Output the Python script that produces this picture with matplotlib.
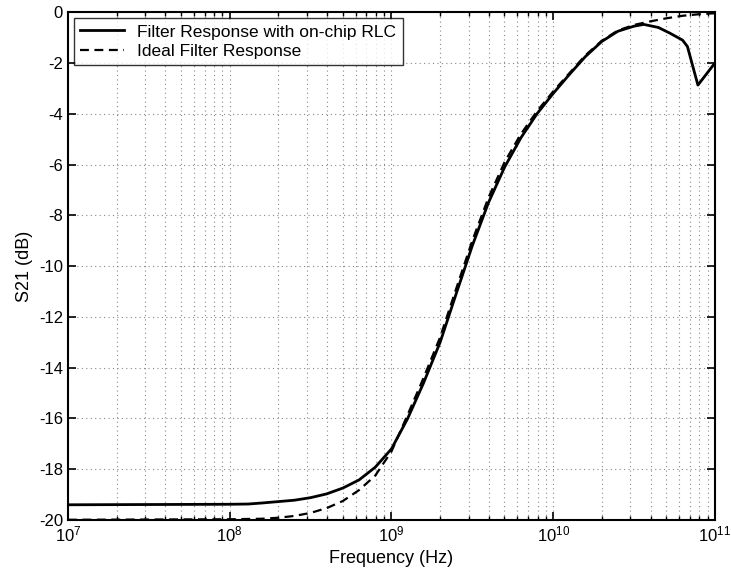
import matplotlib
matplotlib.use("Agg")
import matplotlib.pyplot as plt

plt.rcParams['font.family'] = ['Liberation Sans', 'DejaVu Sans']

# Measured response (on-chip RLC)
freq_meas = [1e7, 1e8, 1.3e8, 1.58e8, 2.51e8, 3.16e8, 3.98e8, 5.01e8, 6.31e8, 7.94e8,
             1e9, 1.26e9, 1.58e9, 2e9, 2.51e9, 3.16e9, 3.98e9, 5.01e9, 6.31e9, 7.94e9,
             1e10, 1.26e10, 1.58e10, 2e10, 2.51e10, 3.16e10, 3.63e10, 4.47e10, 5.25e10,
             6.31e10, 6.76e10, 7.85e10, 1e11]
s21_meas = [-19.40, -19.38, -19.37, -19.33, -19.22, -19.12, -18.97, -18.74, -18.42, -17.92,
            -17.2, -16.0, -14.6, -13.0, -11.1, -9.2, -7.5, -6.1, -4.95, -4.0,
            -3.2, -2.45, -1.75, -1.15, -0.75, -0.55, -0.48, -0.6, -0.82,
            -1.1, -1.35, -2.87, -2.0]

# Ideal response
freq_ideal = [1e7, 1e8, 1.58e8, 2e8, 2.51e8, 3.16e8, 3.98e8, 5.01e8, 6.31e8, 7.94e8,
              1e9, 1.26e9, 1.58e9, 2e9, 2.51e9, 3.16e9, 3.98e9, 5.01e9, 6.31e9, 7.94e9,
              1e10, 1.26e10, 1.58e10, 2e10, 2.51e10, 3.16e10, 3.98e10, 5.01e10, 6.31e10,
              7.94e10, 1e11]
s21_ideal = [-19.99, -19.97, -19.95, -19.91, -19.84, -19.72, -19.53, -19.25, -18.82, -18.25,
             -17.3, -15.85, -14.4, -12.8, -10.9, -9.0, -7.3, -5.9, -4.8, -3.9,
             -3.12, -2.4, -1.7, -1.12, -0.72, -0.5, -0.36, -0.24, -0.14,
             -0.08, -0.04]

xticks = [1e7, 1e8, 1e9, 1e10, 1e11]
yticks = list(range(-20, 1, 2))

fig = plt.figure(figsize=(7.31, 5.82), dpi=100)
ax = fig.add_axes([0.093, 0.1065, 0.885, 0.8725])

ax.semilogx(freq_meas, s21_meas, color='black', lw=2.0, ls='-',
            label='Filter Response with on-chip RLC')
ax.semilogx(freq_ideal, s21_ideal, color='black', lw=1.6, ls=(0, (4, 2.5)),
            label='Ideal Filter Response')

ax.set_xlim(1e7, 1e11)
ax.set_ylim(-20, 0)
ax.set_xticks(xticks)
ax.set_yticks(yticks)
ax.set_yticklabels([str(v) for v in yticks])

ax.grid(True, which='major', color='#888888', ls=(0, (1, 3)), lw=0.8)
ax.grid(True, which='minor', axis='x', color='#888888', ls=(0, (1, 3)), lw=0.8)

ax.tick_params(which='both', direction='in', top=True, right=True, labelsize=12)
ax.tick_params(which='major', length=6, width=1.2)
ax.tick_params(which='minor', length=3, width=1.0)
for s in ax.spines.values():
    s.set_linewidth(1.5)

ax.set_xlabel('Frequency (Hz)', fontsize=13)
ax.set_ylabel('S21 (dB)', fontsize=13)

leg = ax.legend(loc='upper left', fontsize=12.5, frameon=True, fancybox=False,
                edgecolor='black', borderaxespad=0.35, handlelength=2.5,
                borderpad=0.35, labelspacing=0.25)
leg.get_frame().set_linewidth(1.0)

fig.savefig('out.png', dpi=100)
